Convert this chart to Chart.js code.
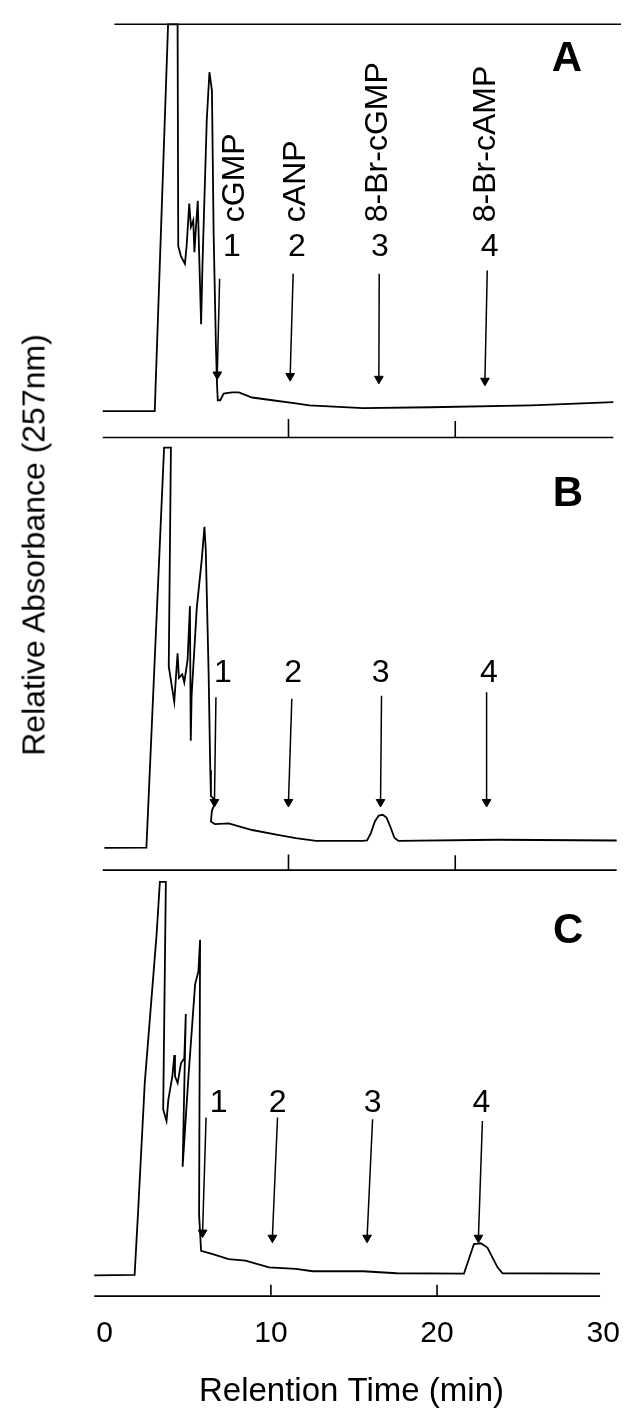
<!DOCTYPE html>
<html>
<head>
<meta charset="utf-8">
<script src="https://cdn.jsdelivr.net/npm/chart.js@4.4.1/dist/chart.umd.min.js"></script>
<style>
  body { margin: 0; background: #fff; width: 627px; height: 1425px; position: relative; overflow: hidden;
         font-family: "Liberation Sans", Arial, sans-serif; }
  canvas { position: absolute; left: 0; }
  #ytitle { position: absolute; left: 34px; top: 545px; transform: translate(-50%, -50%) rotate(-90deg);
            white-space: nowrap; font-size: 32px; color: #000; }
</style>
</head>
<body>
<canvas id="panelA" width="627" height="460" style="top:0px"></canvas>
<canvas id="panelB" width="627" height="450" style="top:430px"></canvas>
<canvas id="panelC" width="627" height="565" style="top:860px"></canvas>
<div id="ytitle">Relative Absorbance (257nm)</div>

<script>
// axis / labels
const xTicks = [0, 10, 20, 30];
const xTitle = "Relention Time (min)";
const peakNumbers = ["1", "2", "3", "4"];
const compoundNames = ["cGMP", "cANP", "8-Br-cGMP", "8-Br-cAMP"];

// panel A trace (time in min, relative absorbance)
const timeA = [-1.14, 1.98, 2.78, 3.35, 3.39, 3.55, 3.79, 3.89, 4.05, 4.15, 4.29, 4.36, 4.44, 4.56, 4.64, 4.76, 4.84,
  5.10, 5.26, 5.41, 5.51, 5.65, 5.71, 5.76, 5.91, 6.11, 6.61, 7.02, 7.82, 9.03, 10.44, 11.25, 14.47, 18.5, 24.55, 29.48];
const absA = [0, 0, 99.3, 99.3, 42.3, 39.8, 37.8, 42.3, 53.3, 47.3, 49, 40.8, 46.5, 54, 40.8, 22.3, 37.3,
  74.8, 87, 82.3, 45.8, 16.5, 7.3, 2.8, 2.8, 4.5, 4.8, 4.8, 3.5, 2.8, 2, 1.5, 0.8, 1, 1.5, 2.3];
const paperTimeA = [-0.44, 29.94];
const paperAbsA = [99.3, 99.3];
const markTimeA = [-1.14, 10, 10, 10, 20, 20, 20, 29.48];
const markAbsA = [-6.75, -6.75, -2, -6.75, -6.75, -2.5, -6.75, -6.75];
const arrowTopA = [[5.87, 34], [10.28, 35.3], [15.44, 35.3], [21.92, 36.1]];
const arrowTipA = [[5.73, 9.4], [10.1, 9], [15.42, 8.3], [21.78, 7.8]];
const numberTimeA = [6.61, 10.5, 15.48, 22.06];
const nameTimeA = [6.81, 10.44, 15.37, 21.88];

// panel B trace
const timeB = [-1.04, 1.48, 2.54, 2.95, 2.82, 3.15, 3.35, 3.43, 3.63, 3.75, 3.95, 4.09, 4.14, 4.19, 4.50, 4.80, 4.96,
  5.04, 5.21, 5.31, 5.35, 5.65, 5.41, 5.35, 5.59, 6.41, 7.82, 9.43, 10.44, 11.65, 14.47, 14.71, 14.94, 15.18, 15.41,
  15.65, 15.88, 16.12, 16.35, 16.59, 22.53, 29.68];
const absB = [-0.8, -0.7, 102, 102, 45.8, 36.7, 49.2, 42.9, 43.8, 41.7, 47.5, 61.3, 26.7, 38.3, 60.8, 73.3, 81.7,
  75.8, 44.2, 19.2, 12.5, 11.3, 8.8, 6, 5.3, 5.5, 3.8, 2.5, 1.7, 1, 1, 1.1, 3, 6, 7.5,
  7.7, 7, 4.5, 1.8, 1, 1.3, 1.1];
const markTimeB = [-1.14, 10, 10, 10, 20, 20, 20, 29.68];
const markAbsB = [-6.5, -6.5, -2.5, -6.5, -6.5, -2.7, -6.5, -6.5];
const arrowTopB = [[5.65, 37.9], [10.2, 37.5], [15.58, 38.3], [21.88, 39.2]];
const arrowTipB = [[5.56, 11], [10.0, 11], [15.52, 11], [21.88, 11]];
const numberTimeB = [6.07, 10.28, 15.52, 22.02];

// panel C trace
const timeC = [-0.63, 1.8, 2.0, 2.41, 3.12, 3.32, 3.68, 3.52, 3.72, 3.83, 4.07, 4.19, 4.23, 4.39, 4.59, 4.79, 4.88,
  4.69, 5.04, 5.44, 5.64, 5.74, 5.68, 5.80, 6.45, 7.46, 8.47, 9.89, 11.5, 12.51, 15.55, 17.57, 21.62, 21.82, 22.22,
  22.63, 23.03, 23.64, 23.94, 29.81];
const absC = [-1.25, -1.1, 14.2, 47.5, 85, 98.5, 98.5, 40.8, 37.9, 43.3, 49.2, 54.6, 49.2, 47.5, 52.5, 53.8, 65,
  26.3, 49.2, 72.5, 75.8, 83.8, 14.2, 5, 4.2, 2.9, 2.5, 0.8, 0.4, -0.2, -0.2, -0.7, -0.8, 1.7, 6.7,
  6.9, 5.8, 0.8, -0.7, -0.8];
const markTimeC = [-0.63, 10, 10, 10, 20, 20, 20, 29.81];
const markAbsC = [-6.5, -6.5, -3.6, -6.5, -6.5, -3.6, -6.5, -6.5];
const arrowTopC = [[6.1, 38.75], [10.4, 38.75], [16.12, 38.3], [22.73, 37.9]];
const arrowTipC = [[5.89, 9.6], [10.09, 8.3], [15.79, 8.3], [22.49, 8.3]];
const numberTimeC = [6.85, 10.4, 16.12, 22.67];

Chart.defaults.font.family = "'Liberation Sans', Arial, sans-serif";
Chart.defaults.color = "#000";

// draws numbers, compound names and panel letters at data positions
const panelText = {
  id: "panelText",
  afterDatasetsDraw(chart, args, opts) {
    const ctx = chart.ctx;
    const x = chart.scales.x, y = chart.scales.y;
    ctx.save();
    ctx.fillStyle = "#000";
    (opts.items || []).forEach(it => {
      ctx.save();
      ctx.translate(x.getPixelForValue(it.t), y.getPixelForValue(it.v));
      if (it.rotate) ctx.rotate(-Math.PI / 2);
      ctx.font = it.font;
      ctx.textAlign = it.align || "center";
      ctx.textBaseline = "middle";
      ctx.fillText(it.text, 0, 0);
      ctx.restore();
    });
    ctx.restore();
  }
};

function lineSet(xs, ys, w) {
  return {
    data: xs.map((t, i) => ({ x: t, y: ys[i] })),
    borderColor: "#000", borderWidth: w, pointRadius: 0, tension: 0, fill: false
  };
}

function arrowSets(tops, tips) {
  return tops.map((p, i) => ({
    data: [{ x: p[0], y: p[1] }, { x: tips[i][0], y: tips[i][1] }],
    borderColor: "#000", borderWidth: 1.5, tension: 0, fill: false,
    pointRadius: [0, 5], pointStyle: "triangle", rotation: 180,
    pointBackgroundColor: "#000", pointBorderColor: "#000", pointBorderWidth: 1
  }));
}

function numberItems(times, v) {
  return times.map((t, i) => ({ text: peakNumbers[i], t: t, v: v, font: "32px 'Liberation Sans', Arial" }));
}

function makePanel(id, cfg) {
  const scales = {
    x: { type: "linear", min: cfg.xmin, max: cfg.xmax, display: false },
    y: { type: "linear", min: cfg.ymin, max: cfg.ymax, display: false }
  };
  if (cfg.axis) {
    scales.x = {
      type: "linear", min: cfg.xmin, max: cfg.xmax, display: true,
      grid: { display: false }, border: { display: false },
      afterBuildTicks: s => { s.ticks = xTicks.map(v => ({ value: v })); },
      afterFit: s => { s.height = 120; s.paddingLeft = 0; s.paddingRight = 0; },
      ticks: { font: { size: 30 }, padding: 3, maxRotation: 0, color: "#000" }
    };
  }
  return new Chart(document.getElementById(id), {
    type: "line",
    data: { datasets: cfg.datasets },
    options: {
      responsive: false, animation: false,
      layout: { padding: 0 },
      plugins: { legend: { display: false }, tooltip: { enabled: false }, panelText: { items: cfg.items } },
      scales: scales
    },
    plugins: [panelText]
  });
}

makePanel("panelA", {
  xmin: -6.94, xmax: 29.94, ymin: -11, ymax: 104,
  datasets: [lineSet(timeA, absA, 1.8), lineSet(paperTimeA, paperAbsA, 1.6), lineSet(markTimeA, markAbsA, 1.6)]
    .concat(arrowSets(arrowTopA, arrowTipA)),
  items: numberItems(numberTimeA, 42)
    .concat(nameTimeA.map((t, i) => ({ text: compoundNames[i], t: t, v: 48.5, rotate: true, align: "left",
      font: "32px 'Liberation Sans', Arial" })))
    .concat([{ text: "A", t: 26.7, v: 90.2, font: "bold 42px 'Liberation Sans', Arial" }])
});

makePanel("panelB", {
  xmin: -6.94, xmax: 29.94, ymin: -7.5, ymax: 105,
  datasets: [lineSet(timeB, absB, 1.8), lineSet(markTimeB, markAbsB, 1.6)].concat(arrowSets(arrowTopB, arrowTipB)),
  items: numberItems(numberTimeB, 44.2)
    .concat([{ text: "B", t: 26.76, v: 90, font: "bold 42px 'Liberation Sans', Arial" }])
});

makePanel("panelC", {
  xmin: -5.94, xmax: 31.07, ymin: -8.75, ymax: 102.5, axis: true,
  datasets: [lineSet(timeC, absC, 1.8), lineSet(markTimeC, markAbsC, 1.6)].concat(arrowSets(arrowTopC, arrowTipC)),
  items: numberItems(numberTimeC, 42.5)
    .concat([{ text: "C", t: 27.89, v: 85.8, font: "bold 42px 'Liberation Sans', Arial" },
             { text: xTitle, t: 14.85, v: -30.75, font: "33px 'Liberation Sans', Arial" }])
});
</script>
</body>
</html>
